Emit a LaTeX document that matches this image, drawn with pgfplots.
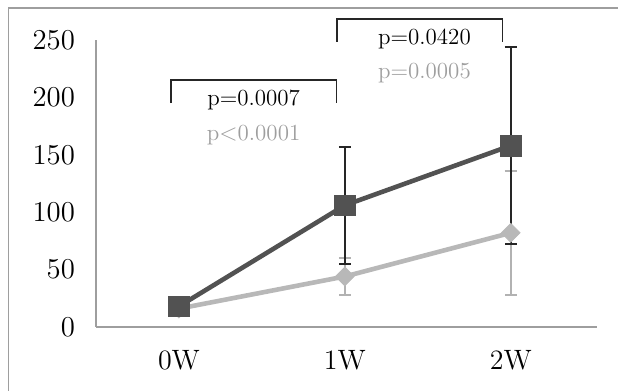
\documentclass[border=0pt]{standalone}
\usepackage{pgfplots}
\pgfplotsset{compat=1.18}
\definecolor{darkser}{gray}{0.32}
\definecolor{darkerr}{gray}{0.15}
\definecolor{lightser}{gray}{0.72}
\definecolor{lighterr}{gray}{0.70}
\definecolor{frameg}{gray}{0.62}
\begin{document}
\begin{tikzpicture}
\useasboundingbox (-48pt,-32pt) rectangle (261pt,163.5pt);
\draw[frameg, line width=0.7pt] (-43.7pt,-32pt) -- (-43.7pt,159.4pt) -- (261pt,159.4pt);
\begin{axis}[
  at={(0,0)}, anchor=south west,
  scale only axis, width=250.5pt, height=143.5pt,
  xmin=-0.5, xmax=2.52, ymin=0, ymax=250,
  axis lines=left, axis line style={frameg, line width=0.6pt, -},
  xtick={0,1,2}, xticklabels={0W,1W,2W},
  ytick={0,50,100,150,200,250},
  major tick length=0pt,
  tick label style={font=\fontsize{14}{16}\selectfont},
  yticklabel style={xshift=-7pt},
  xticklabel style={yshift=-8pt},
  clip=false,
]
% light series (diamonds)
\addplot[color=lightser, line width=2.3pt, mark=square*, mark size=3.3pt,
  mark options={rotate=45, fill=lightser, draw=lightser, line width=0.4pt},
  error bars/.cd, y dir=both, y explicit,
  error bar style={line width=0.9pt, lighterr},
  error mark options={rotate=90, mark size=3pt, lighterr, line width=0.9pt}]
  coordinates {(0,16) +- (0,0) (1,44) +- (0,16) (2,82) +- (0,54)};
% dark series (squares)
\addplot[color=darkser, line width=2.3pt, mark=square*, mark size=5.2pt,
  mark options={fill=darkser, draw=darkser, line width=0.4pt},
  error bars/.cd, y dir=both, y explicit,
  error bar style={line width=0.9pt, darkerr},
  error mark options={rotate=90, mark size=3pt, darkerr, line width=0.9pt}]
  coordinates {(0,18) +- (0,0) (1,106) +- (0,51) (2,158) +- (0,86)};
% brackets
\draw[black!85, line width=0.9pt] (axis cs:-0.05,195) -- (axis cs:-0.05,215) -- (axis cs:0.95,215) -- (axis cs:0.95,195);
\draw[black!85, line width=0.9pt] (axis cs:0.955,248.5) -- (axis cs:0.955,268) -- (axis cs:1.95,268) -- (axis cs:1.95,248.5);
\node[font=\fontsize{11.5}{13}\selectfont, text=black] at (axis cs:0.45,198) {p=0.0007};
\node[font=\fontsize{11.5}{13}\selectfont, text=black!38] at (axis cs:0.45,167) {p$<$0.0001};
\node[font=\fontsize{11.5}{13}\selectfont, text=black] at (axis cs:1.48,250.5) {p=0.0420};
\node[font=\fontsize{11.5}{13}\selectfont, text=black!38] at (axis cs:1.48,221.5) {p=0.0005};
\end{axis}
\end{tikzpicture}
\end{document}
